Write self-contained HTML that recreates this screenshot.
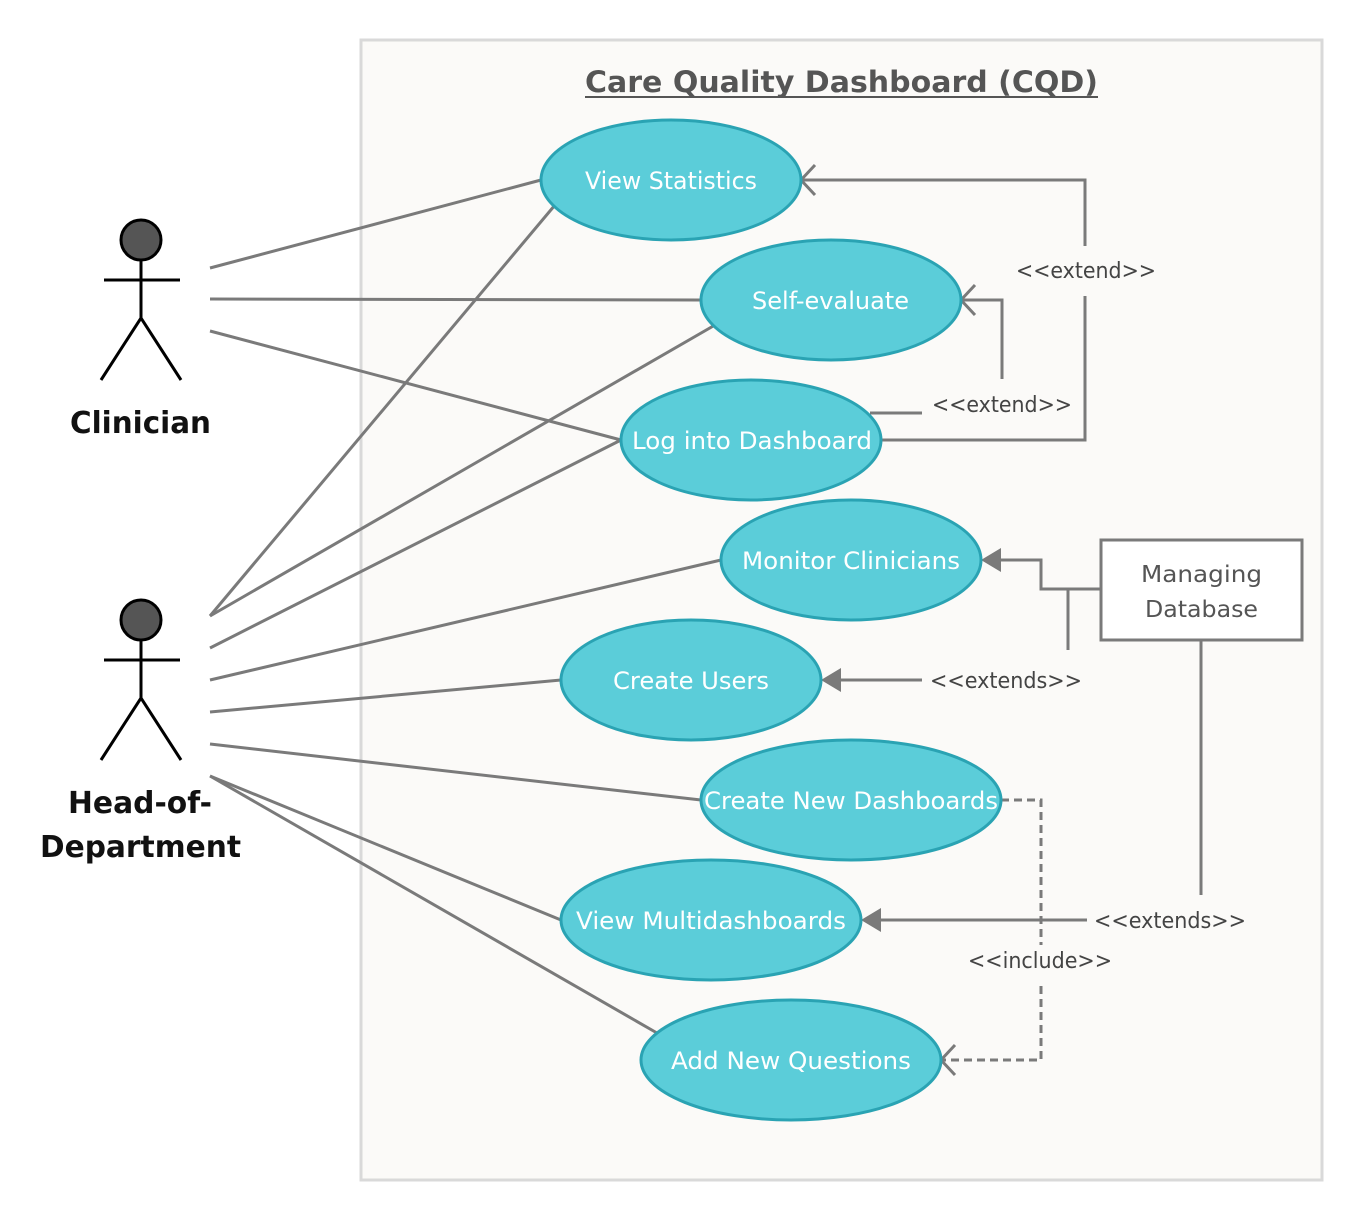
<!DOCTYPE html>
<html><head><meta charset="utf-8"><style>
html,body{margin:0;padding:0;background:#fff;}
svg{display:block;font-family:"DejaVu Sans","Liberation Sans",sans-serif;}
</style></head><body>
<svg width="1362" height="1221" viewBox="0 0 1362 1221">
<rect x="361" y="40" width="961" height="1140" fill="#fbfaf8" stroke="#d9d9d9" stroke-width="3"/>
<text x="585" y="92" font-size="29" font-weight="bold" fill="#555" textLength="513" lengthAdjust="spacingAndGlyphs">Care Quality Dashboard (CQD)</text>
<line x1="585" y1="97" x2="1098" y2="97" stroke="#555" stroke-width="2"/>
<g stroke="#7a7a7a" stroke-width="3" fill="none">
<line x1="210" y1="268" x2="541" y2="180"/>
<line x1="210" y1="299" x2="701" y2="300"/>
<line x1="210" y1="331" x2="621" y2="440"/>
<line x1="210" y1="616" x2="555" y2="205"/>
<line x1="210" y1="616" x2="715" y2="325"/>
<line x1="210" y1="648" x2="621" y2="440"/>
<line x1="210" y1="680" x2="721" y2="560"/>
<line x1="210" y1="712" x2="561" y2="680"/>
<line x1="210" y1="744" x2="701" y2="800"/>
<line x1="210" y1="776" x2="561" y2="920"/>
<line x1="210" y1="776" x2="657" y2="1033"/>
<polyline points="881,440 1085,440 1085,296"/>
<polyline points="1085,246 1085,180 801,180"/>
<polyline points="815,165 801,180 815,195"/>
<polyline points="870,413 922,413"/>
<polyline points="1002,379 1002,300 961,300"/>
<polyline points="975,285 961,300 975,315"/>
<polyline points="1100,589 1041,589 1041,560 995,560"/>
<line x1="1068" y1="589" x2="1068" y2="650"/>
<line x1="922" y1="680" x2="835" y2="680"/>
<line x1="1201" y1="640" x2="1201" y2="895"/>
<line x1="1087" y1="920" x2="875" y2="920"/>
<g stroke-dasharray="8,5">
<polyline points="1001,800 1041,800 1041,945"/>
<polyline points="1041,986 1041,1060 941,1060"/>
</g>
<polyline points="955,1045 941,1060 955,1075"/>
</g>
<g fill="#7a7a7a">
<polygon points="981,560 1001,548 1001,572"/>
<polygon points="821,680 841,668 841,692"/>
<polygon points="861,920 881,908 881,932"/>
</g>
<rect x="1101" y="540" width="201" height="100" fill="#fff" stroke="#7a7a7a" stroke-width="3"/>
<text x="1141" y="582" font-size="23" fill="#555" textLength="121" lengthAdjust="spacingAndGlyphs">Managing</text>
<text x="1145" y="617" font-size="23" fill="#555" textLength="113" lengthAdjust="spacingAndGlyphs">Database</text>
<g font-size="22" fill="#444" lengthAdjust="spacingAndGlyphs">
<text x="1016" y="278" textLength="140" lengthAdjust="spacingAndGlyphs">&lt;&lt;extend&gt;&gt;</text>
<text x="932" y="412" textLength="140" lengthAdjust="spacingAndGlyphs">&lt;&lt;extend&gt;&gt;</text>
<text x="930" y="688" textLength="152" lengthAdjust="spacingAndGlyphs">&lt;&lt;extends&gt;&gt;</text>
<text x="1094" y="928" textLength="152" lengthAdjust="spacingAndGlyphs">&lt;&lt;extends&gt;&gt;</text>
<text x="968" y="968" textLength="144" lengthAdjust="spacingAndGlyphs">&lt;&lt;include&gt;&gt;</text>
</g>
<g fill="#5bcdd9" stroke="#2aa3b3" stroke-width="3">
<ellipse cx="671" cy="180" rx="130" ry="60"/>
<ellipse cx="831" cy="300" rx="130" ry="60"/>
<ellipse cx="751" cy="440" rx="130" ry="60"/>
<ellipse cx="851" cy="560" rx="130" ry="60"/>
<ellipse cx="691" cy="680" rx="130" ry="60"/>
<ellipse cx="851" cy="800" rx="150" ry="60"/>
<ellipse cx="711" cy="920" rx="150" ry="60"/>
<ellipse cx="791" cy="1060" rx="150" ry="60"/>
</g>
<g font-size="24" fill="#fff">
<text x="585" y="189" textLength="172" lengthAdjust="spacingAndGlyphs">View Statistics</text>
<text x="752" y="309" textLength="157" lengthAdjust="spacingAndGlyphs">Self-evaluate</text>
<text x="632" y="449" textLength="240" lengthAdjust="spacingAndGlyphs">Log into Dashboard</text>
<text x="742" y="569" textLength="218" lengthAdjust="spacingAndGlyphs">Monitor Clinicians</text>
<text x="613" y="689" textLength="156" lengthAdjust="spacingAndGlyphs">Create Users</text>
<text x="704" y="809" textLength="294" lengthAdjust="spacingAndGlyphs">Create New Dashboards</text>
<text x="576" y="929" textLength="270" lengthAdjust="spacingAndGlyphs">View Multidashboards</text>
<text x="671" y="1069" textLength="240" lengthAdjust="spacingAndGlyphs">Add New Questions</text>
</g>
<g stroke="#000" stroke-width="3" fill="none">
<circle cx="141" cy="240" r="20" fill="#555"/>
<line x1="141" y1="260" x2="141" y2="318"/>
<line x1="104" y1="280" x2="180" y2="280"/>
<polyline points="101,380 141,318 181,380"/>
<circle cx="141" cy="620" r="20" fill="#555"/>
<line x1="141" y1="640" x2="141" y2="698"/>
<line x1="104" y1="660" x2="180" y2="660"/>
<polyline points="101,760 141,698 181,760"/>
</g>
<g font-size="30" font-weight="bold" fill="#111">
<text x="70" y="433" textLength="141" lengthAdjust="spacingAndGlyphs">Clinician</text>
<text x="68" y="813" textLength="144" lengthAdjust="spacingAndGlyphs">Head-of-</text>
<text x="40" y="857" textLength="201" lengthAdjust="spacingAndGlyphs">Department</text>
</g>
</svg>
</body></html>
